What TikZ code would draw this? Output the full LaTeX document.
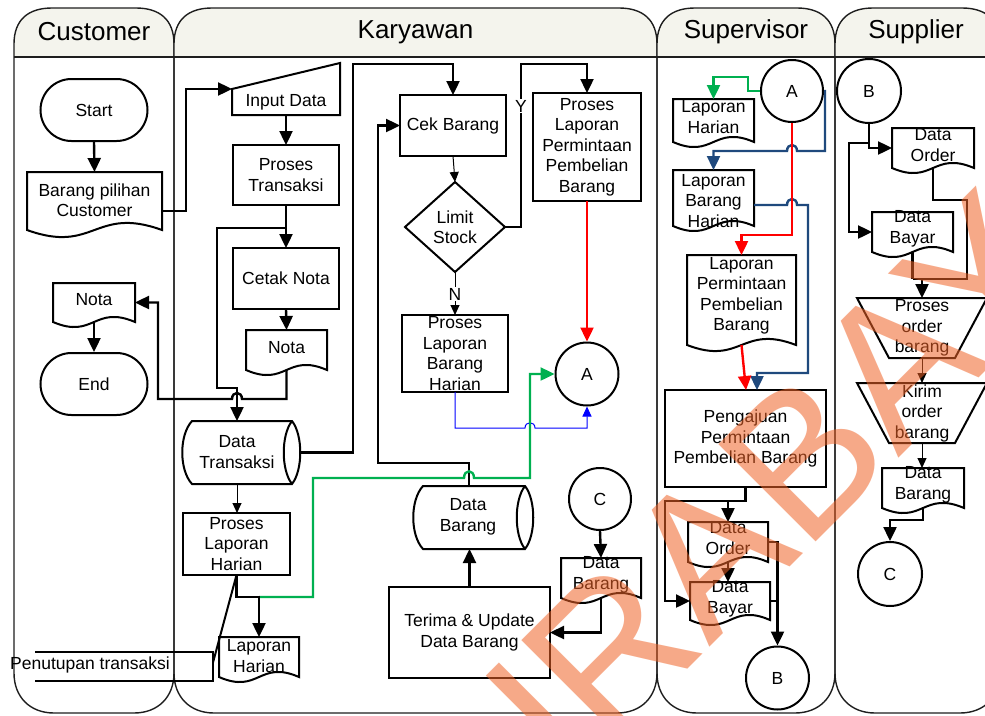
\documentclass[tikz,border=0pt]{standalone}
\usepackage{fontspec}
\setmainfont{Liberation Sans}
\usetikzlibrary{arrows.meta,calc}
\definecolor{hdr}{RGB}{244,244,237}
\definecolor{lanec}{RGB}{30,30,30}
\definecolor{gr}{RGB}{0,176,80}
\definecolor{dblue}{RGB}{31,73,125}
\definecolor{wm}{RGB}{240,100,40}
\tikzset{
  shp/.style={draw=black, line width=2pt},
  hole/.style={inner sep=0pt, outer sep=0pt},
  txt/.style={align=center, font=\fontsize{17.5}{20.5}\selectfont, inner sep=0pt},
  term/.style={shp, rounded corners=31pt, minimum width=107pt, minimum height=62pt, inner sep=0pt, font=\fontsize{17.5}{20.5}\selectfont},
  conn/.style={shp, circle, inner sep=0pt, font=\fontsize{17.5}{20.5}\selectfont},
  thk/.style={line width=2.4pt, -{Triangle[length=14pt,width=13pt]}},
  thn/.style={line width=1pt, -{Triangle[length=10pt,width=9pt]}},
  lbl/.style={fill=white, inner sep=1pt, font=\fontsize{17.5}{20.5}\selectfont},
  laneline/.style={draw=lanec, line width=1.4pt},
  ttl/.style={font=\fontsize{26}{30}\selectfont, inner sep=0pt},
  wmark/.style={text=wm, opacity=0.55, font=\fontsize{200}{200}\selectfont, inner sep=0pt}
}
\newcommand\lane[4]{%
  \fill[hdr] (#1,57) -- (#1,44) .. controls (#1,20) and (#1+14,8) .. (#1+38,8) -- (#2-38,8) .. controls (#2-14,8) and (#2,20) .. (#2,44) -- (#2,57) -- cycle;
  \draw[laneline] (#1,57) -- (#1,44) .. controls (#1,20) and (#1+14,8) .. (#1+38,8) -- (#2-38,8) .. controls (#2-14,8) and (#2,20) .. (#2,44) -- (#2,673) .. controls (#2,697) and (#2-16,713) .. (#2-40,713) -- (#1+40,713) .. controls (#1+16,713) and (#1,697) .. (#1,673) -- cycle;
  \draw[laneline] (#1,57) -- (#2,57);
  \node[ttl] (#4-h) at (#3,32) {#4};}
\newcommand\mkproc[6]{%
  \node[shp, hole, minimum width=#4pt, minimum height=#5pt] (#1) at (#2,#3) {};
  \node[txt] (#1-t) at (#1) {#6};}
\newcommand\mkdoc[8]{%
  \node[hole, minimum width=#4pt, minimum height=#5pt] (#1) at (#2,#3) {};
  \draw[shp] (#1.north west) -- (#1.north east) -- (#1.south east) .. controls ($(#1.south)+(0,-3.5*#6)$) and ($(#1.south)+(0,3.5*#6)$) .. (#1.south west) -- cycle;
  \node[txt] (#1-t) at (#2,#7) {#8};}
\newcommand\mkstore[8]{%
  \node[hole, minimum width=#4pt, minimum height=#5pt] (#1) at (#2,#3) {};
  \draw[shp] ($(#1.north west)+(10,0)$) -- ($(#1.north east)+(-8,0)$)
     .. controls ($(#1.north east)+(3,14)$) and ($(#1.south east)+(3,-14)$) .. ($(#1.south east)+(-8,0)$)
     -- ($(#1.south west)+(10,0)$)
     .. controls ($(#1.south west)+(-3,-14)$) and ($(#1.north west)+(-3,14)$) .. ($(#1.north west)+(10,0)$) -- cycle;
  \draw[shp] ($(#1.north east)+(-8,0)$) .. controls ($(#1.north east)+(-19,14)$) and ($(#1.south east)+(-19,-14)$) .. ($(#1.south east)+(-8,0)$);
  \node[txt] (#1-t) at (#6,#7) {#8};}
\begin{document}
\begin{tikzpicture}[x=1pt,y=-1pt]
\useasboundingbox (0,0) rectangle (985,715);
\fill[white] (0,0) rectangle (985,715);
\begin{scope}
\clip (0,0) rectangle (985,715);
\lane{14}{174}{94}{Customer}
\lane{174}{657}{415.5}{Karyawan}
\lane{657}{835}{746}{Supervisor}
\lane{835}{1000}{916}{Supplier}
\end{scope}

% ---------- Customer ----------
\node[term] (start) at (94,110) {Start};
\mkdoc{barang}{94.5}{201}{135}{58}{7}{200}{Barang pilihan\\Customer}
\mkdoc{notaC}{94}{302.5}{82}{39}{5}{300}{Nota}
\node[term] (end) at (94,384) {End};

% ---------- Karyawan ----------
\node[hole, minimum width=108pt, minimum height=26pt] (input) at (286,102) {};
\draw[shp] (input.south west) -- (input.north west) -- ($(input.north east)+(0,-26)$) -- (input.south east) -- cycle;
\node[txt] (input-t) at (input) {Input Data};
\mkproc{ptrans}{286}{175}{106}{60}{Proses\\Transaksi}
\mkproc{cetak}{286}{278.5}{106}{61}{Cetak Nota}
\mkdoc{notaK}{286.5}{350}{81}{40}{5}{348}{Nota}
\mkstore{dtrans}{241}{452.5}{118}{63}{237}{452}{Data\\Transaksi}
\mkproc{cek}{453}{125.5}{106}{61}{Cek Barang}
\node[hole, minimum width=100pt, minimum height=90pt] (limit) at (455,227) {};
\draw[shp] (limit.north) -- (limit.east) -- (limit.south) -- (limit.west) -- cycle;
\node[txt] (limit-t) at (limit) {Limit\\Stock};
\mkproc{pminta}{587}{147}{108}{108}{Proses\\Laporan\\Permintaan\\Pembelian\\Barang}
\mkproc{pbh}{455}{353.5}{106}{77}{Proses\\Laporan\\Barang\\Harian}
\node[conn, minimum size=63pt] (cA1) at (587,374) {A};
\mkstore{dbarang}{473}{517.5}{120}{63}{468}{517}{Data\\Barang}
\mkproc{terima}{469.5}{632.5}{161}{91}{Terima \& Update\\Data Barang}
\node[conn, minimum size=62pt] (cC1) at (600,499) {C};
\mkdoc{dbdocK}{601}{578}{80}{40}{5}{575}{Data\\Barang}
\mkproc{plh}{236.5}{544}{107}{62}{Proses\\Laporan\\Harian}
\mkdoc{lhK}{259}{657}{80}{40}{5}{656}{Laporan\\Harian}
\node[hole, minimum width=178pt, minimum height=29pt] (penut) at (124,666.5) {};
\draw[line width=2pt] (penut.north west) -- (penut.north east) -- (penut.south east) -- (penut.south west);
\node[txt] (penut-t) at (90,665) {Penutupan transaksi};

% ---------- Supervisor ----------
\node[conn, minimum size=62pt] (cA2) at (792,91) {A};
\mkdoc{lhS}{713.5}{120.5}{81}{43}{5}{117}{Laporan\\Harian}
\mkdoc{lbh}{713.5}{198}{81}{56}{5}{201}{Laporan\\Barang\\Harian}
\mkdoc{lpp}{741.5}{300}{109}{90}{6}{296}{Laporan\\Permintaan\\Pembelian\\Barang}
\mkproc{pengajuan}{745.5}{438.5}{161}{97}{Pengajuan\\Permintaan\\Pembelian Barang}
\mkdoc{dorderS}{728}{542}{80}{40}{5}{538}{Data\\Order}
\mkdoc{dbayarS}{730}{601}{80}{38}{5}{599}{Data\\Bayar}
\node[conn, minimum size=63pt] (cB2) at (777.5,678) {B};

% ---------- Supplier ----------
\node[conn, minimum size=64pt] (cB3) at (869,91) {B};
\mkdoc{dorderP}{933}{148}{82}{40}{5}{145}{Data\\Order}
\mkdoc{dbayarP}{912.5}{232}{81}{40}{5}{229}{Data\\Bayar}
\node[hole, minimum width=130pt, minimum height=60pt] (porder) at (922,328) {};
\draw[shp] (porder.north west) -- (porder.north east) -- ($(porder.south east)+(-32,0)$) -- ($(porder.south west)+(32,0)$) -- cycle;
\node[txt] (porder-t) at (porder) {Proses\\order\\barang};
\node[hole, minimum width=130pt, minimum height=60pt] (kirim) at (922,413) {};
\draw[shp] (kirim.north west) -- (kirim.north east) -- ($(kirim.south east)+(-32,0)$) -- ($(kirim.south west)+(32,0)$) -- cycle;
\node[txt] (kirim-t) at (kirim) {Kirim\\order\\barang};
\mkdoc{dbarangP}{923}{488}{82}{40}{5}{485}{Data\\Barang}
\node[conn, minimum size=64pt] (cC2) at (890,574) {C};

% ---------- connectors: Customer / Karyawan ----------
\draw[thk] (start.south) -- (barang.north);
\draw[thk] ([yshift=-10pt]barang.east) -- ++(24,0) |- (input.north west);
\draw[thk] (notaK.south) -- (notaK.south |- 0,399) -- (242,399) .. controls (242,391) and (232,391) .. (232,399) -- (158,399) |- (notaC.east);
\draw[thk] (notaC.south) -- (end.north);
\draw[thk] (input.south) -- (ptrans.north);
\draw[thk] (ptrans.south) -- (cetak.north);
\draw[thk] (cetak.south) -- (notaK.north);
\draw[thk] (ptrans.south |- 0,228) -- (217,228) -- (217,388) -- (237,388) -- ($(dtrans.north west)+(55,0)$);
\draw[thk] (dtrans.east) -- (353,452.5) -- (353,64) -| (cek.north);
\draw[thn] (cek.south) -- (limit.north);
\draw[thk] (limit.east) -- (521,227) -- (521,64) -| (pminta.north);
\node[lbl] (ylab) at (521,106) {Y};
\draw[thk, red] (pminta.south) -- (cA1.north);
\draw[thn] (limit.south) -- (pbh.north);
\node[lbl] (nlab) at (455,294) {N};
\draw[thn, blue] (pbh.south) -- (455,428) -- (525,428) .. controls (525,421) and (535,421) .. (535,428) -- (587,428) -- (cA1.south);
\draw[thk] ([xshift=-4pt]dbarang.north) -- (469,463) -- (378,463) |- (cek.west);
\draw[thk, gr] (lhK.north |- 0,597) -- (313,597) -- (313,478) -- (464,478) .. controls (464,469) and (474,469) .. (474,478) -- (530,478) |- (cA1.west);
\draw[thk] (terima.north) -- (terima.north |- dbarang.south);
\draw[thk] (cC1.south) -- (dbdocK.north);
\draw[thk] (dbdocK.south) |- (terima.east);
\draw[thn] ($(dtrans.south west)+(55,0)$) -- ($(plh.north west)+(54,0)$);
\draw[thk] (plh.south) -- (plh.south |- 0,597) -- (lhK.north |- 0,597) -- (lhK.north);
\draw[line width=2pt] (plh.south) -- ($(penut.east)+(0,-4)$);

% ---------- connectors: Supervisor ----------
\draw[thk, gr] (cA2.west) -- (748,91) -- (748,77) -| (lhS.north);
\draw[thk, dblue] (cA2.east) -- (825,91) -- (825,151) -- (797,151) .. controls (797,143) and (787,143) .. (787,151) -| (lbh.north);
\draw[thk, dblue] ([yshift=-7pt]lbh.east) -- (787,205) .. controls (787,197) and (797,197) .. (797,205) -- (808,205) -- (808,373) -- (757,373) -- ($(pengajuan.north west)+(92,0)$);
\draw[thk, red] (cA2.south) -- (792,235) -| (lpp.north);
\draw[thk, red] (lpp.south) -- ($(pengajuan.north)+(0.5,0)$);
\draw[thk] (pengajuan.south) -- (745.5,501) -- (665,501) |- (dbayarS.west);
\draw[thk] (728,501) -- (dorderS.north);
\draw[thk] (dorderS.south) -- (dorderS.south |- dbayarS.north);
\draw[thk] (dorderS.east) -| (cB2.north);
\draw[line width=2.4pt] (dbayarS.east) -- (dbayarS.east -| cB2.north);

% ---------- connectors: Supplier ----------
\draw[thk] (cB3.south) |- (dorderP.west);
\draw[thk] (869,143) -- (849,143) |- (dbayarP.west);
\draw[line width=2.4pt] (dorderP.south) -- (933,200) -- (967,200) -- (967,279) -- (912.5,279);
\draw[line width=2.4pt] (dbayarP.south) -- (912.5,279);
\draw[thk] (922,279) -- (porder.north);
\draw[thn] (porder.south) -- (kirim.north);
\draw[thn] (kirim.south) -- (kirim.south |- dbarangP.north);
\draw[thk] (dbarangP.south) -- (923,520) -| (cC2.north);

% ---------- watermark ----------
\begin{scope}
\clip (0,0) rectangle (985,715);
\node[wmark, anchor=base west, rotate=45] (wmk) at (411,946) {SURABAYA};
\end{scope}
\end{tikzpicture}
\end{document}
